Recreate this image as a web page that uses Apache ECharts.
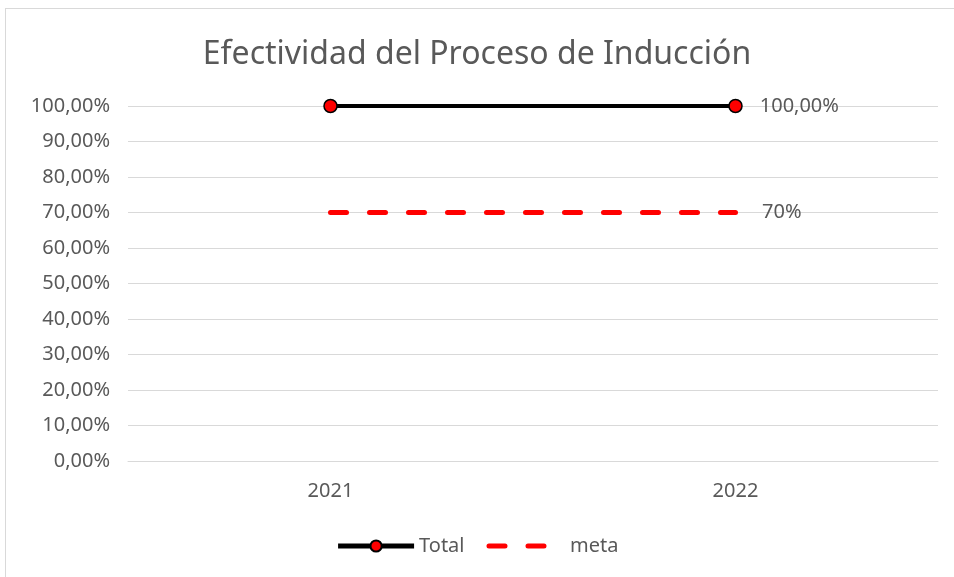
<!DOCTYPE html>
<html>
<head>
<meta charset="utf-8">
<script src="https://cdn.jsdelivr.net/npm/echarts@6/dist/echarts.min.js"></script>
<style>
  html, body { margin: 0; padding: 0; background: #fff; }
  #frame { position: absolute; left: 5px; top: 8px; width: 960px; height: 580px; border: 1px solid #d9d9d9; }
  #chart { position: absolute; left: 0; top: 0; width: 954px; height: 577px; }
</style>
</head>
<body>
<div id="frame"></div>
<div id="chart"></div>
<script>
  var years = ['2021', '2022'];
  var totalData = [1, 1];
  var metaData = [0.7, 0.7];
  var totalLabels = ['', '100,00%'];
  var metaLabels = ['', '70%'];

  var txt = '#595959';
  var font = 'Noto Sans';

  function withLabels(values, labels) {
    return values.map(function (v, i) {
      return {
        value: v,
        label: { show: labels[i] !== '', formatter: labels[i] }
      };
    });
  }

  var myChart = echarts.init(document.getElementById('chart'));
  var option = {
    animation: false,
    title: {
      text: 'Efectividad del Proceso de Inducción',
      left: 'center',
      top: 34,
      textStyle: { color: txt, fontSize: 32, fontWeight: 'normal', fontFamily: font }
    },
    legend: {
      bottom: 16,
      left: 'center',
      itemWidth: 76,
      itemHeight: 14,
      itemGap: 22,
      textStyle: { color: txt, fontSize: 20, fontFamily: font },
      data: [
        { name: 'Total', lineStyle: { width: 5 } },
        { name: 'meta', lineStyle: { width: 5 }, itemStyle: { opacity: 0 } }
      ]
    },
    grid: { left: 128, right: 16, top: 106, bottom: 116 },
    xAxis: {
      type: 'category',
      data: years,
      axisLine: { lineStyle: { color: '#d9d9d9' } },
      axisTick: { show: false },
      axisLabel: { color: txt, fontSize: 20, fontFamily: font, margin: 20 }
    },
    yAxis: {
      type: 'value',
      min: 0,
      max: 1,
      interval: 0.1,
      axisLine: { show: false },
      axisTick: { show: false },
      splitLine: { lineStyle: { color: '#d9d9d9', width: 1 } },
      axisLabel: {
        color: txt, fontSize: 20, fontFamily: font, margin: 18,
        formatter: function (v) { return (v * 100).toFixed(2).replace('.', ',') + '%'; }
      }
    },
    series: [{
      name: 'Total',
      type: 'line',
      data: withLabels(totalData, totalLabels),
      symbol: 'circle',
      symbolSize: 13,
      lineStyle: { color: '#000', width: 4 },
      itemStyle: { color: '#ff0000', borderColor: '#000', borderWidth: 1.5 },
      label: { position: 'right', distance: 17, color: txt, fontSize: 20, fontFamily: font }
    }, {
      name: 'meta',
      type: 'line',
      data: withLabels(metaData, metaLabels),
      symbol: 'circle',
      symbolSize: 1,
      lineStyle: { color: '#ff0000', width: 5, type: [16, 23], cap: 'round' },
      itemStyle: { color: 'rgba(255,0,0,0)' },
      label: { position: 'right', distance: 26, color: txt, fontSize: 20, fontFamily: font }
    }]
  };
  myChart.setOption(option);
</script>
</body>
</html>
